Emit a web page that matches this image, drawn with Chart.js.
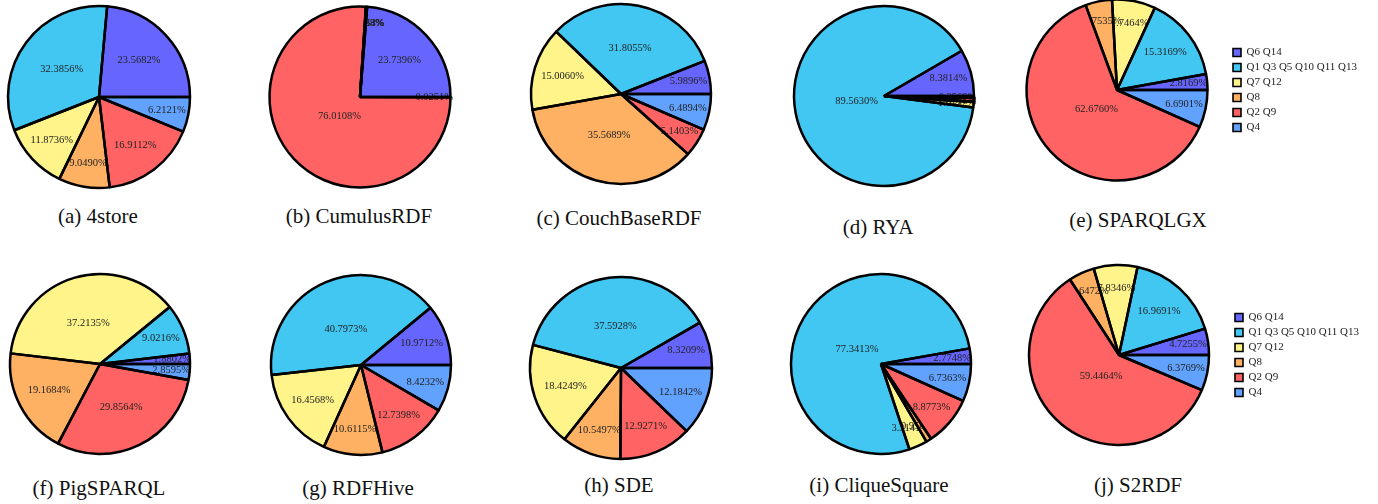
<!DOCTYPE html>
<html>
<head>
<meta charset="utf-8">
<script src="https://cdn.jsdelivr.net/npm/chart.js@4.4.1/dist/chart.umd.min.js"></script>
<style>
  html, body { margin: 0; padding: 0; background: #fff; }
  body { width: 1378px; height: 504px; overflow: hidden; position: relative;
         font-family: "Liberation Serif", "Times New Roman", serif; }
  .pane { position: absolute; }
  .pane canvas { display: block; }
  .cap { position: absolute; font-size: 21px; color: #111; white-space: nowrap;
         transform: translate(-50%, -50%); line-height: 1; }
</style>
</head>
<body>
<script>
// Query groups shown in every pie (legend order)
const queryGroups = ['Q6 Q14', 'Q1 Q3 Q5 Q10 Q11 Q13', 'Q7 Q12', 'Q8', 'Q2 Q9', 'Q4'];
const groupColors = ['#6666ff', '#42c6f2', '#fff48a', '#ffb163', '#ff6363', '#62a2ff'];

// Share of total query time per group (%), one array per system
const store4Share     = [23.5682, 32.3856, 11.8736, 9.0490, 16.9112, 6.2121];
const cumulusShare    = [23.7396, 0.1254, 0.0623, 0.0368, 76.0108, 0.0251];
const couchbaseShare  = [5.9896, 31.8055, 15.0060, 35.5689, 5.1403, 6.4894];
const ryaShare        = [8.3814, 89.5630, 1.0127, 0.0318, 0.6542, 0.3569];
const sparqlgxShare   = [2.8169, 15.3169, 7.7464, 4.7535, 62.6760, 6.6901];
const pigsparqlShare  = [1.8802, 9.0216, 37.2135, 19.1684, 29.8564, 2.8595];
const rdfhiveShare    = [10.9712, 40.7973, 16.4568, 10.6115, 12.7398, 8.4232];
const sdeShare        = [8.3209, 37.5928, 18.4249, 10.5497, 12.9271, 12.1842];
const cliqueShare     = [2.7748, 77.3413, 3.3141, 0.9562, 8.8773, 6.7363];
const s2rdfShare      = [4.7255, 16.9691, 7.8346, 4.6472, 59.4464, 6.3769];

const captions = ['(a)\u00a04store', '(b)\u00a0CumulusRDF', '(c)\u00a0CouchBaseRDF', '(d)\u00a0RYA',
  '(e)\u00a0SPARQLGX', '(f)\u00a0PigSPARQL', '(g)\u00a0RDFHive', '(h)\u00a0SDE',
  '(i)\u00a0CliqueSquare', '(j)\u00a0S2RDF'];
const shares = [store4Share, cumulusShare, couchbaseShare, ryaShare, sparqlgxShare,
  pigsparqlShare, rdfhiveShare, sdeShare, cliqueShare, s2rdfShare];

// Page layout: pie centre, radius, caption centre, legend flag
const layout = [
  { cx: 99,   cy: 96.5, r: 91,   capX: 98,   capY: 216, legend: false },
  { cx: 360,  cy: 96.5, r: 90.5, capX: 359,  capY: 216, legend: false },
  { cx: 621,  cy: 93.5, r: 90,   capX: 619,  capY: 218, legend: false },
  { cx: 884,  cy: 95.5, r: 90,   capX: 878,  capY: 227, legend: false },
  { cx: 1117, cy: 90,   r: 90.5, capX: 1138, capY: 220, legend: true  },
  { cx: 100,  cy: 364,  r: 90,   capX: 99,   capY: 488, legend: false },
  { cx: 361,  cy: 365,  r: 90,   capX: 358,  capY: 488, legend: false },
  { cx: 621,  cy: 368,  r: 91,   capX: 619,  capY: 485, legend: false },
  { cx: 881,  cy: 364,  r: 90,   capX: 879,  capY: 485, legend: false },
  { cx: 1118.5, cy: 355, r: 90,  capX: 1138, capY: 485, legend: true  }
];

const HALF = 100;          // half size of a plain pie canvas
const PIE_AREA = 224;      // chart-area width of a pie that carries a legend
const LEGEND_W = 150;      // fixed legend width

// Slices are painted counter-clockwise from 3 o'clock: fill + label per slice
// in order (later slices cover earlier labels), then all outlines on top.
const sliceLabels = {
  id: 'sliceLabels',
  beforeDatasetDraw(chart, args) {
    const ctx = chart.ctx;
    const arcs = args.meta.data;
    const vals = chart.data.datasets[args.index].data;
    const total = vals.reduce((s, v) => s + v, 0);
    ctx.save();
    for (let k = arcs.length - 1; k >= 0; k--) {
      const arc = arcs[k];
      const body = Object.create(arc);
      body.options = Object.assign({}, arc.options, { borderWidth: 0 });
      body.draw(ctx);
      const mid = (arc.startAngle + arc.endAngle) / 2;
      const frac = vals[k] / total;
      const rr = arc.outerRadius * Math.max(0.31, 0.82 - 0.95 * frac);
      ctx.fillStyle = '#222';
      ctx.font = '10.5px "Liberation Serif", serif';
      ctx.textAlign = 'center';
      ctx.textBaseline = 'middle';
      ctx.fillText(vals[k].toFixed(4) + '%', arc.x + rr * Math.cos(mid), arc.y + rr * Math.sin(mid));
    }
    for (let k = arcs.length - 1; k >= 0; k--) {
      const arc = arcs[k];
      const edge = Object.create(arc);
      edge.options = Object.assign({}, arc.options, { backgroundColor: 'rgba(0,0,0,0)' });
      edge.draw(ctx);
    }
    ctx.restore();
    return false;
  }
};

// Keeps a shown legend column at a fixed width so the pie centre stays put
const fixedLegendWidth = {
  id: 'fixedLegendWidth',
  beforeLayout(chart) {
    const lg = chart.legend;
    if (lg && chart.options.plugins.legend.display && !lg.__fixedWidth) {
      const fit = lg.fit;
      lg.fit = function () { fit.call(this); this.width = LEGEND_W; };
      lg.__fixedWidth = true;
    }
  }
};

shares.forEach((vals, i) => {
  const L = layout[i];
  const w = L.legend ? PIE_AREA + LEGEND_W : 2 * HALF;
  const h = 2 * HALF;
  const pane = document.createElement('div');
  pane.className = 'pane';
  pane.style.left = (L.cx - (L.legend ? PIE_AREA / 2 : HALF)) + 'px';
  pane.style.top = (L.cy - HALF) + 'px';
  pane.style.width = w + 'px';
  pane.style.height = h + 'px';
  const cv = document.createElement('canvas');
  cv.width = w; cv.height = h;
  pane.appendChild(cv);
  document.body.appendChild(pane);

  const cap = document.createElement('div');
  cap.className = 'cap';
  cap.style.left = L.capX + 'px';
  cap.style.top = L.capY + 'px';
  cap.textContent = captions[i];
  document.body.appendChild(cap);

  // Chart.js runs clockwise, so the groups are fed in reverse order
  const rev = a => a.slice().reverse();
  new Chart(cv, {
    type: 'pie',
    data: {
      labels: rev(queryGroups),
      datasets: [{
        data: rev(vals),
        backgroundColor: rev(groupColors),
        borderColor: '#000',
        borderWidth: 2.5
      }]
    },
    options: {
      responsive: false,
      devicePixelRatio: 1,
      animation: false,
      events: [],
      rotation: 90,
      radius: L.r,
      layout: { padding: 0 },
      plugins: {
        tooltip: { enabled: false },
        legend: {
          display: L.legend,
          position: 'right',
          align: 'center',
          reverse: true,
          labels: {
            boxWidth: 8,
            boxHeight: 8,
            padding: 4,
            color: '#222',
            font: { family: 'Liberation Serif', size: 11 },
            generateLabels(chart) {
              const items = Chart.overrides.pie.plugins.legend.labels.generateLabels(chart);
              items.forEach(it => { it.lineWidth = 1.6; it.strokeStyle = '#000'; });
              return items;
            }
          }
        }
      }
    },
    plugins: [sliceLabels, fixedLegendWidth]
  });
});
</script>
</body>
</html>
